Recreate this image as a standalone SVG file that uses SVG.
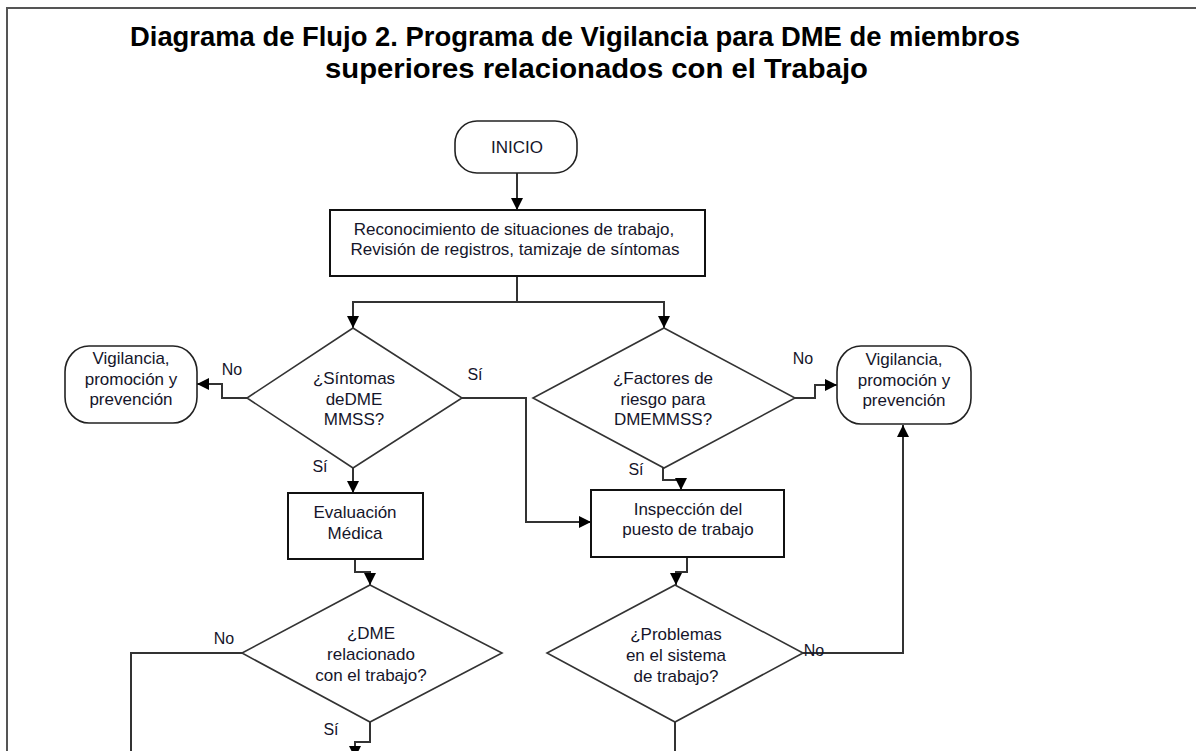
<svg xmlns="http://www.w3.org/2000/svg" width="1196" height="751" viewBox="0 0 1196 751">
<defs>
<marker id="ah" markerWidth="14" markerHeight="14" refX="12" refY="6.5" orient="auto" markerUnits="userSpaceOnUse"><path d="M0,0.5 L12,6.5 L0,12.5 Z" fill="#000"/></marker>
<style>
.t{font-family:"Liberation Sans",Arial,sans-serif;font-size:17px;fill:#15152a;text-anchor:middle}
.lb{font-family:"Liberation Sans",Arial,sans-serif;font-size:16px;fill:#15152a;text-anchor:middle}
.ttl{font-family:"Liberation Sans",Arial,sans-serif;font-size:28px;font-weight:bold;fill:#000}
.box{fill:#fff;stroke:#111;stroke-width:2}
.dia{fill:#fff;stroke:#333;stroke-width:1.6}
.term{fill:#fff;stroke:#222;stroke-width:1.6}
.c{fill:none;stroke:#333;stroke-width:2}
.ca{fill:none;stroke:#333;stroke-width:2;marker-end:url(#ah)}
</style>
</defs>
<rect width="1196" height="751" fill="#fff"/>
<path d="M7,751 V8 H1196" fill="none" stroke="#555" stroke-width="2"/>
<g id="title">
<text class="ttl" x="130" y="46" textLength="890" lengthAdjust="spacingAndGlyphs">Diagrama de Flujo 2. Programa de Vigilancia para DME de miembros</text>
<text class="ttl" x="325" y="78" textLength="543" lengthAdjust="spacingAndGlyphs">superiores relacionados con el Trabajo</text>
</g>
<g id="connectors">
<path class="ca" d="M517,173 V210"/>
<path class="c" d="M517,276 V302"/>
<path class="ca" d="M517,302 H353 V328"/>
<path class="ca" d="M517,302 H664 V328"/>
<path class="ca" d="M247,398 H222 V384 H197"/>
<path class="ca" d="M462,398 H526 V522 H591"/>
<path class="ca" d="M353,468 V493"/>
<path class="ca" d="M355,559 V572 H370 V585"/>
<path class="c" d="M242,653 H131 V751"/>
<path class="ca" d="M370,722 V742 H355 V758"/>
<path class="ca" d="M795,398 H815 V385 H837"/>
<path class="ca" d="M663,468 V480 H681 V490"/>
<path class="ca" d="M687,557 V572 H676 V585"/>
<path class="ca" d="M803,653 H903 V425"/>
<path class="c" d="M675,722 V751"/>
<text class="lb" x="232" y="375">No</text>
<text class="lb" x="475" y="380">Sí</text>
<text class="lb" x="320" y="472">Sí</text>
<text class="lb" x="224" y="644">No</text>
<text class="lb" x="331" y="735">Sí</text>
<text class="lb" x="803" y="364">No</text>
<text class="lb" x="636" y="475">Sí</text>
<text class="lb" x="814" y="656">No</text>
</g>
<g id="inicio">
<rect class="term" x="455" y="121" width="122" height="52" rx="22" ry="22"/>
<text class="t" x="517" y="153">INICIO</text>
</g>
<g id="reconocimiento">
<rect class="box" x="330" y="210" width="375" height="66"/>
<text class="t" x="514" y="235">Reconocimiento de situaciones de trabajo,</text>
<text class="t" x="515" y="255">Revisión de registros, tamizaje de síntomas</text>
</g>
<g id="sintomas">
<polygon class="dia" points="353,328 462,398 353,468 247,398"/>
<text class="t" x="354" y="384">¿Síntomas</text>
<text class="t" x="354" y="405">deDME</text>
<text class="t" x="354" y="425">MMSS?</text>
</g>
<g id="vigilancia1">
<rect class="term" x="65" y="346" width="132" height="77" rx="24" ry="26"/>
<text class="t" x="131" y="364">Vigilancia,</text>
<text class="t" x="131" y="385">promoción y</text>
<text class="t" x="131" y="405">prevención</text>
</g>
<g id="factores">
<polygon class="dia" points="664,328 795,398 664,468 533,398"/>
<text class="t" x="663" y="384">¿Factores de</text>
<text class="t" x="663" y="405">riesgo para</text>
<text class="t" x="663" y="425">DMEMMSS?</text>
</g>
<g id="vigilancia2">
<rect class="term" x="837" y="346" width="134" height="78" rx="24" ry="26"/>
<text class="t" x="904" y="365">Vigilancia,</text>
<text class="t" x="904" y="386">promoción y</text>
<text class="t" x="904" y="406">prevención</text>
</g>
<g id="evaluacion">
<rect class="box" x="288" y="493" width="135" height="66"/>
<text class="t" x="355" y="518">Evaluación</text>
<text class="t" x="355" y="539">Médica</text>
</g>
<g id="inspeccion">
<rect class="box" x="591" y="490" width="193" height="67"/>
<text class="t" x="688" y="515">Inspección del</text>
<text class="t" x="688" y="535">puesto de trabajo</text>
</g>
<g id="dme">
<polygon class="dia" points="370,585 502,653 370,722 242,653"/>
<text class="t" x="371" y="639">¿DME</text>
<text class="t" x="371" y="660">relacionado</text>
<text class="t" x="371" y="681">con el trabajo?</text>
</g>
<g id="problemas">
<polygon class="dia" points="675,585 803,653 675,722 547,653"/>
<text class="t" x="676" y="640">¿Problemas</text>
<text class="t" x="676" y="661">en el sistema</text>
<text class="t" x="676" y="682">de trabajo?</text>
</g>
</svg>
